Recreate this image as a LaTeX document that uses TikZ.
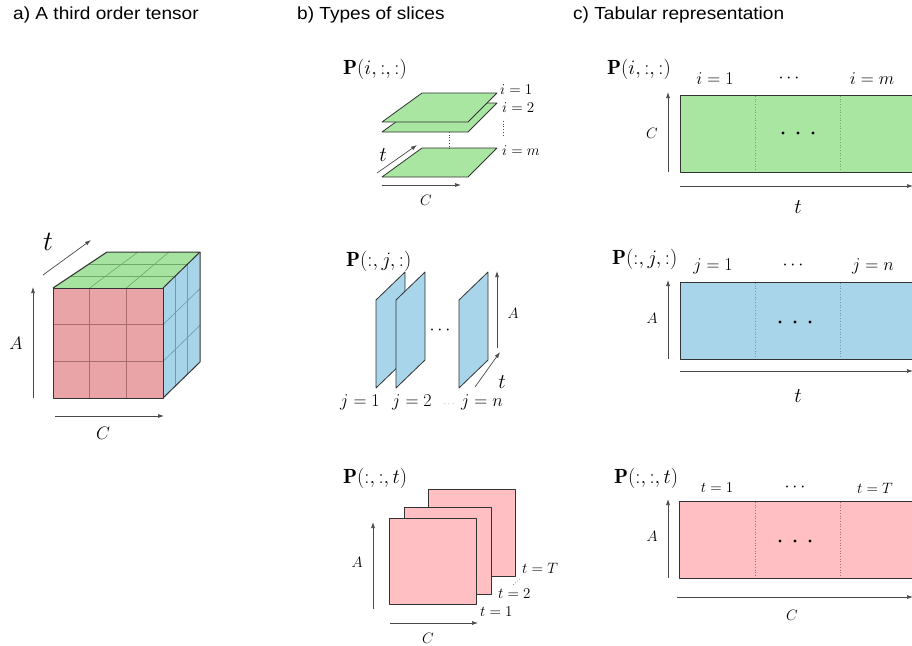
\RequirePackage{fix-cm}
\documentclass[tikz,border=0pt]{standalone}
\usepackage{fontspec}
\newfontfamily\titlefont[FakeStretch=1.09]{Liberation Sans}
\usetikzlibrary{arrows.meta,calc}
\definecolor{cubered}{HTML}{E8A4A7}
\definecolor{cubegreen}{HTML}{A6E3A0}
\definecolor{cubeblue}{HTML}{A8D4E9}
\definecolor{gridred}{HTML}{A86C70}
\definecolor{gridgreen}{HTML}{6FA86A}
\definecolor{gridblue}{HTML}{6E9AB2}
\definecolor{slgreen}{HTML}{A8E6A2}
\definecolor{slblue}{HTML}{A8D5EA}
\definecolor{slpink}{HTML}{FFBFC3}
\definecolor{edgegray}{HTML}{333333}
\definecolor{axisgray}{HTML}{4A4A4A}
\newcommand\fs[1]{\fontsize{#1}{#1}\selectfont}
\tikzset{
  title/.style={font=\titlefont\fs{17.5}, anchor=base west, inner sep=0pt},
  axis/.style={draw=axisgray, line width=0.7pt, -{Latex[length=6pt,width=4pt]}},
  lbl/.style={inner sep=0pt, font=\fs{15}},
  biglbl/.style={inner sep=0pt, font=\fs{18}},
  bigt/.style={inner sep=0pt, font=\fs{21}},
  plabel/.style={inner sep=0pt, anchor=west, font=\fs{20.5}},
  edgeline/.style={draw=edgegray, line width=1pt, line join=round},
  thinedge/.style={draw=edgegray, line width=0.8pt, line join=round},
  gridline/.style={line width=0.6pt},
  dotline/.style={line width=0.7pt, dotted},
  bigdot/.style={fill=black, circle, inner sep=0pt, minimum size=3.2pt},
}
\begin{document}
\begin{tikzpicture}[x=1pt,y=-1pt]
\clip (0,0) rectangle (912,645);
\fill[white] (0,0) rectangle (912,645);

% ---------------- titles ----------------
\node[title] (ta) at (13,19.3) {a) A third order tensor};
\node[title] (tb) at (297,19.3) {b) Types of slices};
\node[title] (tc) at (573,19.3) {c) Tabular representation};

% ---------------- a) cube ----------------
\coordinate (c1) at (53,398);
\coordinate (c2) at (163,398);
\coordinate (c3) at (163,288);
\coordinate (c4) at (53,288);
\coordinate (c5) at (107,252);
\coordinate (c6) at (200,252);
\coordinate (c7) at (200,362);
\fill[cubered] (c1)--(c2)--(c3)--(c4)--cycle;
\fill[cubegreen] (c4)--(c3)--(c6)--(c5)--cycle;
\fill[cubeblue] (c3)--(c2)--(c7)--(c6)--cycle;
\foreach \f in {0.3333,0.6667}{
  \draw[gridline,gridred] ($(c1)!\f!(c2)$) -- ($(c4)!\f!(c3)$);
  \draw[gridline,gridred] ($(c1)!\f!(c4)$) -- ($(c2)!\f!(c3)$);
  \draw[gridline,gridgreen] ($(c4)!\f!(c3)$) -- ($(c5)!\f!(c6)$);
  \draw[gridline,gridgreen] ($(c4)!\f!(c5)$) -- ($(c3)!\f!(c6)$);
  \draw[gridline,gridblue] ($(c3)!\f!(c6)$) -- ($(c2)!\f!(c7)$);
  \draw[gridline,gridblue] ($(c2)!\f!(c3)$) -- ($(c7)!\f!(c6)$);
}
\draw[edgeline] (c1)--(c2)--(c3)--(c4)--cycle;
\draw[edgeline] (c4)--(c5)--(c6)--(c3);
\draw[edgeline] (c6)--(c7)--(c2);
\coordinate (at0) at (43,275); \coordinate (at1) at (91,240);
\draw[axis] (at0) -- (at1);
\node[inner sep=0pt, font=\fs{28}] (atl) at (48,242) {$t$};
\coordinate (aa0) at (33,398); \coordinate (aa1) at (33,287);
\draw[axis] (aa0) -- (aa1);
\node[biglbl] (aal) at (16,343) {$A$};
\coordinate (ac0) at (55,416); \coordinate (ac1) at (164,416);
\draw[axis] (ac0) -- (ac1);
\node[biglbl] (acl) at (103,433) {$C$};

% ---------------- b1) horizontal slices ----------------
\node[plabel] (pb1) at (343,69) {$\mathbf{P}(i,:,:)$};
\foreach \n/\yy in {pm/177, p2/132, p1/122}{
  \filldraw[fill=slgreen, thinedge] (382,\yy) coordinate (\n a) -- ++(86,0) -- ++(29,-29) -- ++(-75,0) -- cycle;
}
\coordinate (dl0) at (449,132); \coordinate (dl1) at (449,149);
\draw[dotline, axisgray] (dl0) -- (dl1);
\coordinate (dv0) at (503,121); \coordinate (dv1) at (503,136);
\draw[dotline, axisgray] (dv0) -- (dv1);
\node[lbl, anchor=west] (li1) at (500,90) {$i=1$};
\node[lbl, anchor=west] (li2) at (502,108) {$i=2$};
\node[lbl, anchor=west] (lim) at (502,151) {$i=m$};
\coordinate (bt0) at (377,173); \coordinate (bt1) at (417,145);
\draw[axis] (bt0) -- (bt1);
\node[bigt] (btl) at (383,155) {$t$};
\coordinate (bc0) at (382,185); \coordinate (bc1) at (461,185);
\draw[axis] (bc0) -- (bc1);
\node[lbl] (bcl) at (426,200) {$C$};

% ---------------- b2) vertical slices ----------------
\node[plabel] (pb2) at (346,261) {$\mathbf{P}(:,j,:)$};
\foreach \n/\xx in {q1/376, q2/396, qn/459}{
  \filldraw[fill=slblue, thinedge] (\xx,388) coordinate (\n) -- ++(0,-88) -- ++(29,-28) -- ++(0,88) -- cycle;
}
\node[inner sep=0pt, font=\fs{18}] (qdots) at (440,330) {$\cdots$};
\coordinate (ba0) at (497,348); \coordinate (ba1) at (497,271);
\draw[axis] (ba0) -- (ba1);
\node[lbl] (bal) at (513,313) {$A$};
\coordinate (bt2) at (475,387); \coordinate (bt3) at (500,352);
\draw[axis] (bt2) -- (bt3);
\node[bigt] (btl2) at (502,382) {$t$};
\node[biglbl] (lj1) at (360,402) {$j=1$};
\node[biglbl] (lj2) at (412,402) {$j=2$};
\node[inner sep=0pt, font=\fs{9}, text=gray] (ljd) at (449,404) {$\cdots$};
\node[biglbl] (ljn) at (482,402) {$j=n$};

% ---------------- b3) frontal slices ----------------
\node[plabel] (pb3) at (343,478) {$\mathbf{P}(:,:,t)$};
\filldraw[fill=slpink, thinedge] (428,489) rectangle (515,576);
\filldraw[fill=slpink, thinedge] (404,507) rectangle (491,594);
\filldraw[fill=slpink, thinedge] (389,518) rectangle (476,604);
\coordinate (bd0) at (520,579); \coordinate (bd1) at (512,586);
\draw[dotline, gray] (bd0) -- (bd1);
\node[lbl, anchor=west] (ltT) at (522,568) {$t=T$};
\node[lbl, anchor=west] (lt2) at (498,594) {$t=2$};
\node[lbl, anchor=west] (lt1) at (480,612) {$t=1$};
\coordinate (bA0) at (373,609); \coordinate (bA1) at (373,522);
\draw[axis] (bA0) -- (bA1);
\node[lbl] (bAl) at (357,562) {$A$};
\coordinate (bC0) at (390,623); \coordinate (bC1) at (478,623);
\draw[axis] (bC0) -- (bC1);
\node[lbl] (bCl) at (428,638) {$C$};

% ---------------- c1) tabular green ----------------
\node[plabel] (pc1) at (607,69) {$\mathbf{P}(i,:,:)$};
\filldraw[fill=slgreen, edgeline] (680,95) rectangle (918,172);
\draw[dotline, gridgreen] (755,96) -- (755,171);
\draw[dotline, gridgreen] (840,96) -- (840,171);
\foreach \dx in {-15,0,15}{\node[bigdot] at (798+\dx,133) {};}
\node[biglbl] (ci1) at (715,79) {$i=1$};
\node[biglbl] (cid) at (789,78) {$\cdots$};
\node[biglbl] (cim) at (872,79) {$i=m$};
\node[lbl] (cCl) at (652,133) {$C$};
\coordinate (cC0) at (668,172); \coordinate (cC1) at (668,92);
\draw[axis] (cC0) -- (cC1);
\coordinate (ct0) at (680,186); \coordinate (ct1) at (913,186);
\draw[axis] (ct0) -- (ct1);
\node[bigt] (ctl) at (798,207) {$t$};

% ---------------- c2) tabular blue ----------------
\node[plabel] (pc2) at (612,259) {$\mathbf{P}(:,j,:)$};
\filldraw[fill=slblue, edgeline] (680,282) rectangle (918,359);
\draw[dotline, gridblue] (755,283) -- (755,358);
\draw[dotline, gridblue] (840,283) -- (840,358);
\foreach \dx in {-15,0,15}{\node[bigdot] at (795+\dx,322) {};}
\node[biglbl] (cj1) at (713,266) {$j=1$};
\node[biglbl] (cjd) at (793,265) {$\cdots$};
\node[biglbl] (cjn) at (873,266) {$j=n$};
\node[lbl] (cAl) at (652,318) {$A$};
\coordinate (cA0) at (668,359); \coordinate (cA1) at (668,280);
\draw[axis] (cA0) -- (cA1);
\coordinate (ct2) at (680,371); \coordinate (ct3) at (913,371);
\draw[axis] (ct2) -- (ct3);
\node[bigt] (ctl2) at (798,396) {$t$};

% ---------------- c3) tabular pink ----------------
\node[plabel] (pc3) at (614,478) {$\mathbf{P}(:,:,t)$};
\filldraw[fill=slpink, edgeline] (679,501) rectangle (918,578);
\draw[dotline, gridred] (755,502) -- (755,577);
\draw[dotline, gridred] (840,502) -- (840,577);
\foreach \dx in {-15,0,15}{\node[bigdot] at (795+\dx,541) {};}
\node[lbl] (ct1l) at (717,488) {$t=1$};
\node[biglbl] (ctd) at (795,487) {$\cdots$};
\node[lbl] (ctT) at (875,488) {$t=T$};
\node[lbl] (cA2l) at (652,536) {$A$};
\coordinate (cA2) at (668,578); \coordinate (cA3) at (668,499);
\draw[axis] (cA2) -- (cA3);
\coordinate (cC2) at (677,597); \coordinate (cC3) at (913,597);
\draw[axis] (cC2) -- (cC3);
\node[lbl] (cC2l) at (792,615) {$C$};
\end{tikzpicture}
\end{document}
